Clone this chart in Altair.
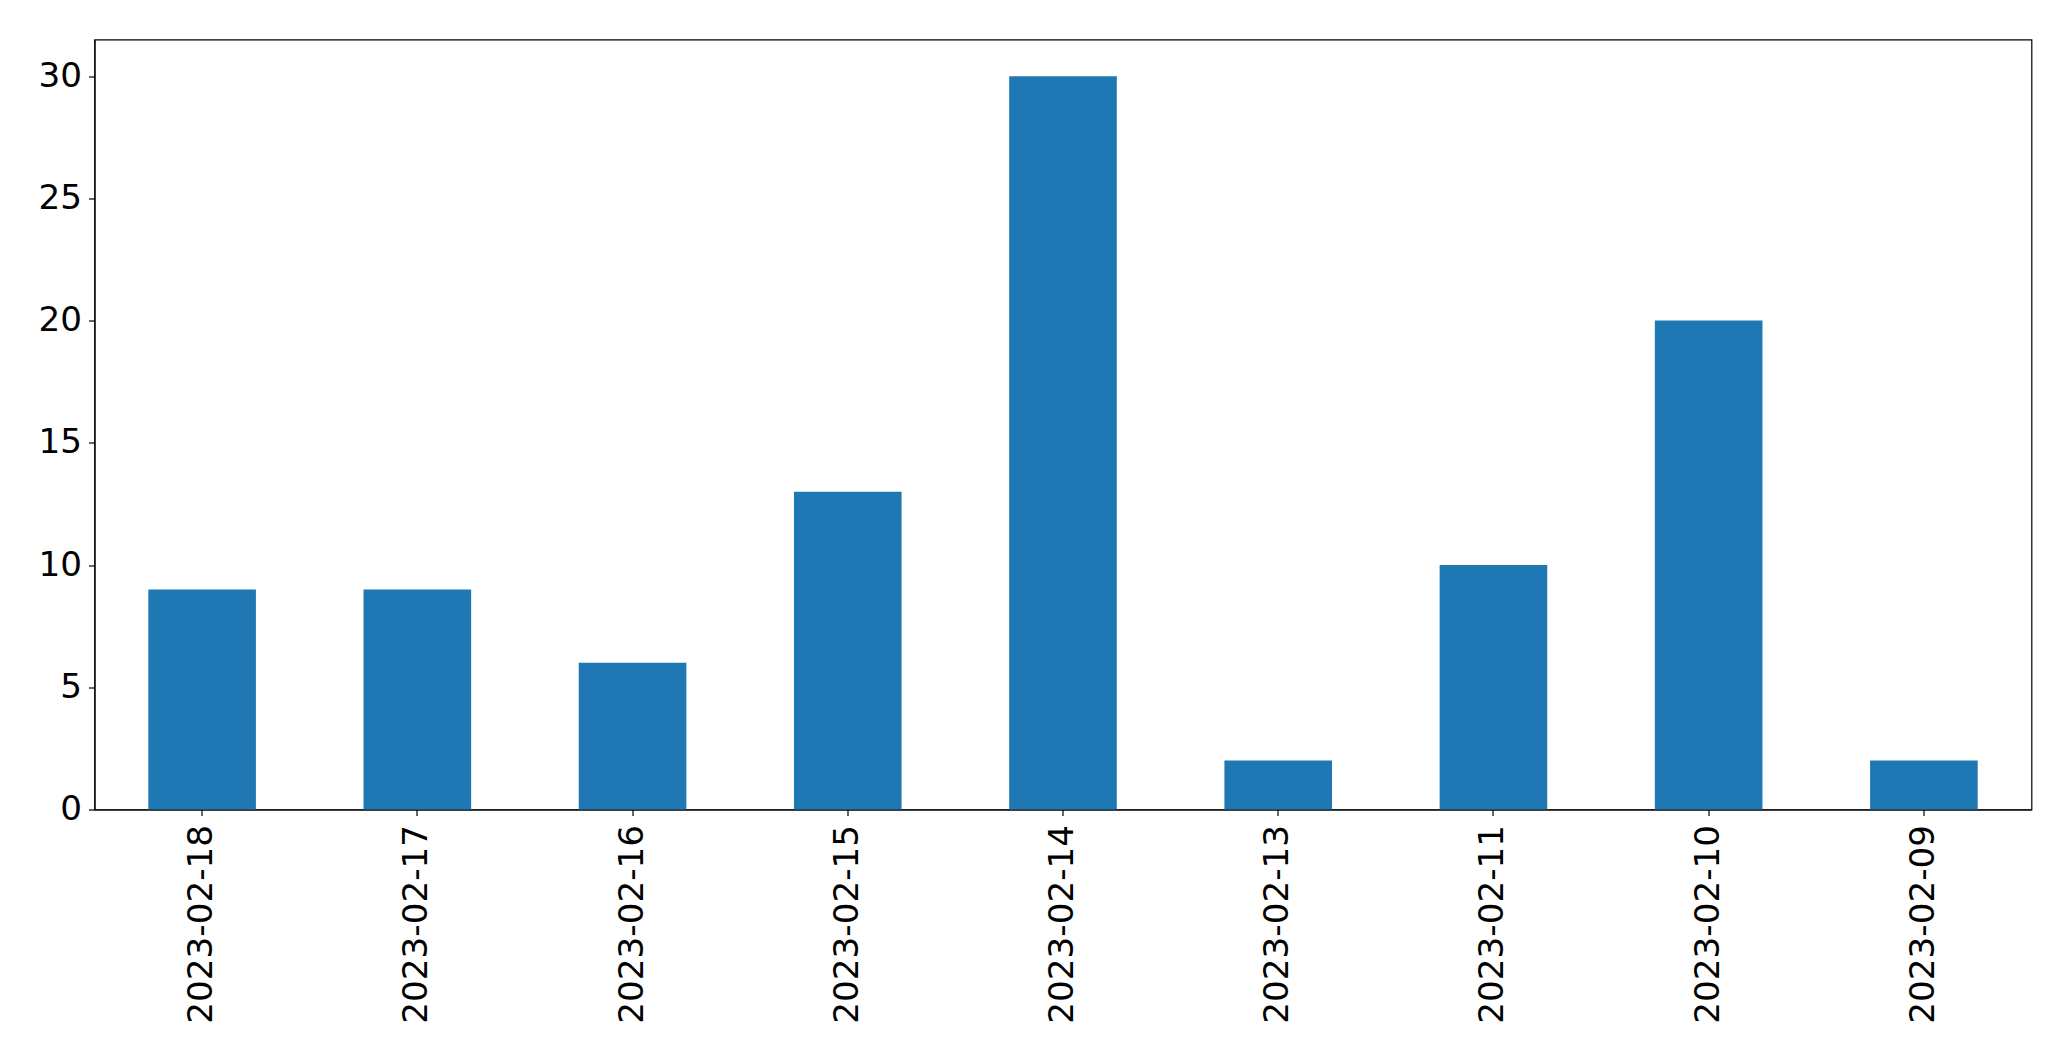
import altair as alt
import pandas as pd

dates = ["2023-02-18", "2023-02-17", "2023-02-16", "2023-02-15", "2023-02-14",
         "2023-02-13", "2023-02-11", "2023-02-10", "2023-02-09"]
counts = [9, 9, 6, 13, 30, 2, 10, 20, 2]

df = pd.DataFrame({"date": dates, "count": counts})

chart = alt.Chart(df).mark_bar(color="#1f77b4").encode(
    x=alt.X("date:N", sort=dates, title=None,
            scale=alt.Scale(paddingInner=0.5, paddingOuter=0.25),
            axis=alt.Axis(labelAngle=-90, labelAlign="right", labelBaseline="middle",
                          labelFontSize=34.2, labelFont="DejaVu Sans", labelColor="black",
                          labelLimit=0,
                          tickSize=6, tickColor="black", tickWidth=1.2,
                          domainColor="black", domainWidth=1.2,
                          labelPadding=9, grid=False)),
    y=alt.Y("count:Q", title=None,
            scale=alt.Scale(domain=[0, 31.5], nice=False),
            axis=alt.Axis(values=[0, 5, 10, 15, 20, 25, 30], labelFontSize=34.2,
                          labelFont="DejaVu Sans", labelColor="black",
                          tickSize=6, tickColor="black", tickWidth=1.2,
                          domainColor="black", domainWidth=1.2,
                          labelPadding=7, grid=False)),
).properties(
    width=1937, height=770,
    autosize=alt.AutoSizeParams(type="none"),
    padding={"left": 86.5, "top": 31.5, "right": 30, "bottom": 240},
).configure(background="white").configure_view(stroke="black", strokeWidth=1.2)

chart.save("out.html", embed_options={"renderer": "svg", "actions": False})
